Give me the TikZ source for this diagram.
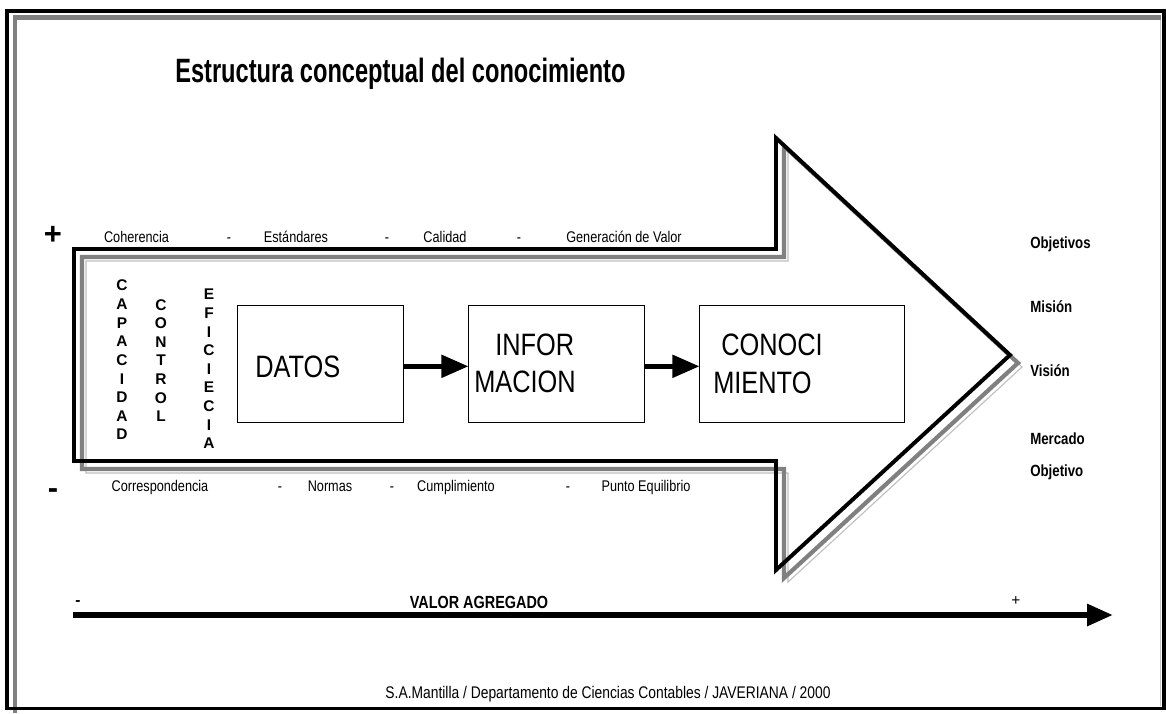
\documentclass[tikz,border=0pt]{standalone}
\usepackage{fontspec}
\setmainfont{Liberation Sans}
\newfontfamily\condfont[FakeStretch=0.82]{Liberation Sans}
\newfontfamily\titlefont[FakeStretch=0.7]{Liberation Sans}
\usetikzlibrary{arrows.meta}
\newcommand{\arrowoutline}{(74,249) -- (776,249) -- (776,138) -- (1010,355) -- (776,570) -- (776,461) -- (74,461) -- cycle}
\begin{document}
\begin{tikzpicture}[x=0.025cm,y=-0.025cm,
  every node/.style={inner sep=0pt},
  stage/.style={draw,line width=0.7pt,minimum height=2.925cm},
  stagetext/.style={font=\condfont\fontsize{22}{24}\selectfont,anchor=west},
  band/.style={font=\condfont\fontsize{11}{13}\selectfont,anchor=base},
  goal/.style={font=\condfont\bfseries\fontsize{11.5}{13}\selectfont,anchor=base west},
  column/.style={align=center,font=\bfseries\fontsize{11}{13.25}\selectfont},
  sign/.style={font=\bfseries\fontsize{22}{24}\selectfont},
  flow/.style={line width=3.5pt,-{Triangle[length=0.675cm,width=0.55cm]}},
  valueflow/.style={line width=4.25pt,-{Triangle[length=0.65cm,width=0.525cm]}}]
\useasboundingbox (0,0) rectangle (1166,713);
\draw [gray!45,line width=0.8pt] (1160.5,15) -- (1160.5,706);
\draw [gray,line width=3.5pt] (13,17.5) -- (1161,17.5);
\draw [gray,line width=3pt] (15,15) -- (15,713);
\draw [black,line width=2.8pt] (7,11) rectangle (1164,708.5);
\draw (175,82) node[anchor=base west,font=\titlefont\bfseries\fontsize{24}{26}\selectfont] (titulo) {Estructura conceptual del conocimiento};
\draw [gray!50,line width=0.8pt,shift={(12,12)}] \arrowoutline;
\draw [gray,line width=3pt,shift={(8,8)}] \arrowoutline;
\draw [black,line width=2.8pt] \arrowoutline;
\draw (53,235) node[sign] (mas) {+};
\draw (53,494) node[sign] (menos) {-};
\draw (136.5,242) node[band] (coh) {Coherencia};
\draw (229,242) node[band] (g1) {-};
\draw (296,242) node[band] (est) {Estándares};
\draw (387,242) node[band] (g2) {-};
\draw (445,242) node[band] (cal) {Calidad};
\draw (519,242) node[band] (g3) {-};
\draw (624,242) node[band] (gen) {Generación de Valor};
\draw (160,491) node[band] (cor) {Correspondencia};
\draw (280,491) node[band] (g4) {-};
\draw (330,491) node[band] (nor) {Normas};
\draw (392,491) node[band] (g5) {-};
\draw (456,491) node[band] (cum) {Cumplimiento};
\draw (568,491) node[band] (g6) {-};
\draw (646,491) node[band] (pun) {Punto Equilibrio};
\draw (122,360) node[column] (capacidad) {C\\A\\P\\A\\C\\I\\D\\A\\D};
\draw (161,360.5) node[column] (control) {C\\O\\N\\T\\R\\O\\L};
\draw (209,369) node[column] (eficiencia) {E\\F\\I\\C\\I\\E\\C\\I\\A};
\node[stage,minimum width=4.125cm] (datos) at (320.5,363.5) {};
\node[stage,minimum width=4.375cm] (info) at (556.5,363.5) {};
\node[stage,minimum width=5.1cm] (conoc) at (802,363.5) {};
\draw (255,367) node[stagetext] (datosT) {DATOS};
\draw (495,345) node[stagetext] (infoA) {INFOR};
\draw (474,382) node[stagetext] (infoB) {MACION};
\draw (721,345) node[stagetext] (conocA) {CONOCI};
\draw (713,383) node[stagetext] (conocB) {MIENTO};
\draw [flow] ([yshift=-2pt]datos.east) -- ([yshift=-2pt]info.west);
\draw [flow] ([yshift=-2pt]info.east) -- ([yshift=-2pt]conoc.west);
\draw (1030,248) node[goal] (obj) {Objetivos};
\draw (1030,312) node[goal] (mis) {Misión};
\draw (1030,376) node[goal] (vis) {Visión};
\draw (1030,444) node[goal] (mer) {Mercado};
\draw (1030,476) node[goal] (objt) {Objetivo};
\draw (78,603) node[font=\bfseries\fontsize{11}{13}\selectfont] (vmenos) {-};
\draw (479,608) node[anchor=base,font=\condfont\bfseries\fontsize{12.5}{14}\selectfont] (valor) {VALOR AGREGADO};
\draw (1016,601) node[font=\fontsize{11}{13}\selectfont] (vmas) {+};
\coordinate (vini) at (73,615);
\coordinate (vfin) at (1113,615);
\draw [valueflow] (vini) -- (vfin);
\draw (608,698) node[anchor=base,font=\condfont\fontsize{12}{14}\selectfont] (autor) {S.A.Mantilla / Departamento de Ciencias Contables / JAVERIANA / 2000};
\end{tikzpicture}
\end{document}
